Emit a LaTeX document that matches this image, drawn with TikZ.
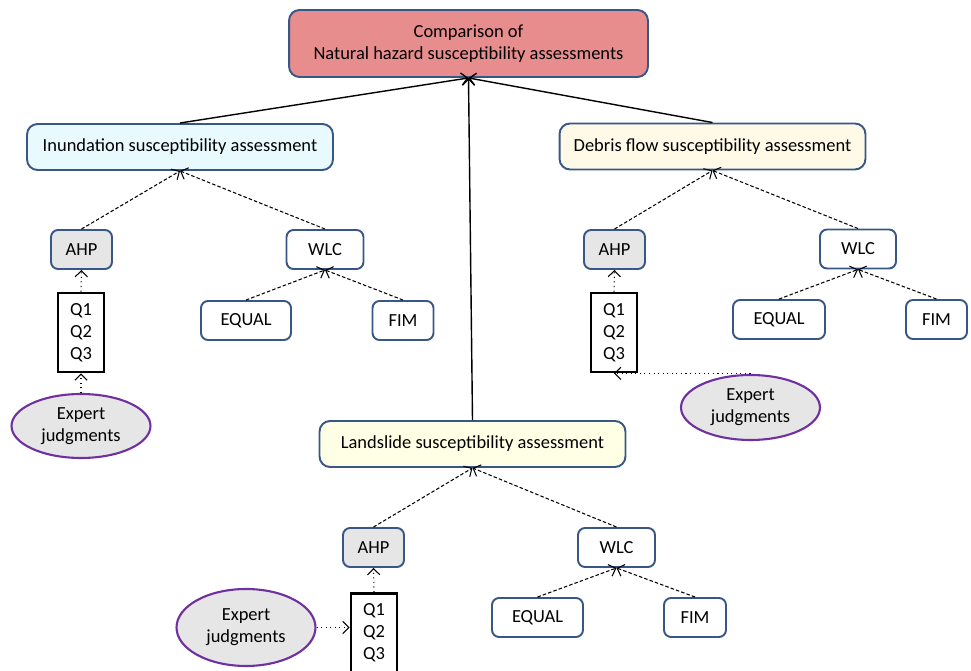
\documentclass[tikz,border=0pt]{standalone}
\usepackage{fontspec}
\setmainfont{Carlito}
\usetikzlibrary{arrows.meta, positioning, calc, shapes.geometric}
\definecolor{edgeblue}{RGB}{56,87,135}
\definecolor{topred}{RGB}{231,141,141}
\definecolor{cyanfill}{RGB}{232,250,254}
\definecolor{sandfill}{RGB}{255,250,232}
\definecolor{lemonfill}{RGB}{255,255,230}
\definecolor{greyfill}{RGB}{230,230,230}
\definecolor{purp}{RGB}{112,48,160}

\begin{document}
\begin{tikzpicture}[
    x=0.02cm, y=-0.02cm,
    txt/.style={font=\fontsize{10.5}{12.6}\selectfont, align=center, inner sep=0pt},
    main/.style={txt, draw=edgeblue, line width=1.1pt, rounded corners=6pt,
                 minimum width=6.12cm, minimum height=0.92cm},
    meth/.style={txt, draw=edgeblue, line width=1.1pt, rounded corners=4pt,
                 minimum height=0.78cm},
    qbox/.style={txt, draw=black, line width=1.6pt,
                 minimum width=0.92cm, minimum height=1.58cm},
    expert/.style={txt, ellipse, draw=purp, line width=1.2pt, fill=greyfill,
                   minimum width=2.78cm, minimum height=1.28cm},
    tip/.style={-{Straight Barb[length=3.5pt,width=7pt]}},
    solidarr/.style={tip, line width=0.8pt},
    dasharr/.style={tip, line width=0.6pt, dash pattern=on 2pt off 1.2pt},
    dotarr/.style={tip, line width=0.6pt, dotted}
  ]
    \useasboundingbox (0,0) rectangle (971,671);

    %% Comparison ─────────────────────────────
    \node[main, fill=topred, minimum width=7.18cm, minimum height=1.34cm] (top)
          at (468.5,43.5) {Comparison of\\Natural hazard susceptibility assessments};

    %% Inundation ─────────────────────────────
    \node[main, fill=cyanfill] (ind) at (180,147) {Inundation susceptibility assessment};
    \node[meth, fill=greyfill, minimum width=1.22cm] (ahpI) at (81.5,249.5) {AHP};
    \node[meth, minimum width=1.54cm] (wlcI) at (325,249.5) {WLC};
    \node[meth, minimum width=1.8cm]  (eqI)  at (246,320.5) {EQUAL};
    \node[meth, minimum width=1.22cm] (fimI) at (403,320.5) {FIM};
    \node[qbox] (qI) at (81,332.5) {Q1\\Q2\\Q3};
    \node[expert] (expI) at (81,426) {Expert\\judgments};

    \draw[solidarr] (ind.north) -- (top.south);
    \draw[dasharr] (ahpI.north) -- (ind.south);
    \draw[dasharr] (wlcI.north) -- (ind.south);
    \draw[dasharr] (eqI.north) -- (wlcI.south);
    \draw[dasharr] (fimI.north) -- (wlcI.south);
    \draw[dotarr] (qI.north) -- (ahpI.south);
    \draw[dotarr] (expI.north) -- (qI.south);

    %% Debris flow ────────────────────────────
    \node[main, fill=sandfill] (deb) at (712.5,146.5) {Debris flow susceptibility assessment};
    \node[meth, fill=greyfill, minimum width=1.22cm] (ahpD) at (614.5,249.5) {AHP};
    \node[meth, minimum width=1.52cm] (wlcD) at (858,249) {WLC};
    \node[meth, minimum width=1.84cm] (eqD)  at (779,319.5) {EQUAL};
    \node[meth, minimum width=1.22cm] (fimD) at (936.5,319.5) {FIM};
    \node[qbox] (qD) at (614,332.5) {Q1\\Q2\\Q3};
    \node[expert, minimum height=1.3cm] (expD) at (750.5,407.5) {Expert\\judgments};

    \draw[solidarr] (deb.north) -- (top.south);
    \draw[dasharr] (ahpD.north) -- (deb.south);
    \draw[dasharr] (wlcD.north) -- (deb.south);
    \draw[dasharr] (eqD.north) -- (wlcD.south);
    \draw[dasharr] (fimD.north) -- (wlcD.south);
    \draw[dotarr] (qD.north) -- (ahpD.south);
    \draw[dotarr] (expD.north |- qD.south) -- (qD.south);

    %% Landslide ──────────────────────────────
    \node[main, fill=lemonfill] (land) at (472.5,444) {Landslide susceptibility assessment};
    \node[meth, fill=greyfill, minimum width=1.22cm] (ahpL) at (373.5,547.5) {AHP};
    \node[meth, minimum width=1.54cm] (wlcL) at (616.5,547.5) {WLC};
    \node[meth, minimum width=1.82cm] (eqL)  at (537.5,617.5) {EQUAL};
    \node[meth, minimum width=1.24cm] (fimL) at (695,617.5) {FIM};
    \node[qbox] (qL) at (374,633) {Q1\\Q2\\Q3};
    \node[expert, minimum height=1.54cm] (expL) at (246,627.5) {Expert\\judgments};

    \draw[solidarr] (land.north) -- (top.south);
    \draw[dasharr] (ahpL.north) -- (land.south);
    \draw[dasharr] (wlcL.north) -- (land.south);
    \draw[dasharr] (eqL.north) -- (wlcL.south);
    \draw[dasharr] (fimL.north) -- (wlcL.south);
    \draw[dotarr] (qL.north) -- (ahpL.south);
    \draw[dotarr] (expL.east) -- (expL.east -| qL.west);

  \end{tikzpicture}
\end{document}
